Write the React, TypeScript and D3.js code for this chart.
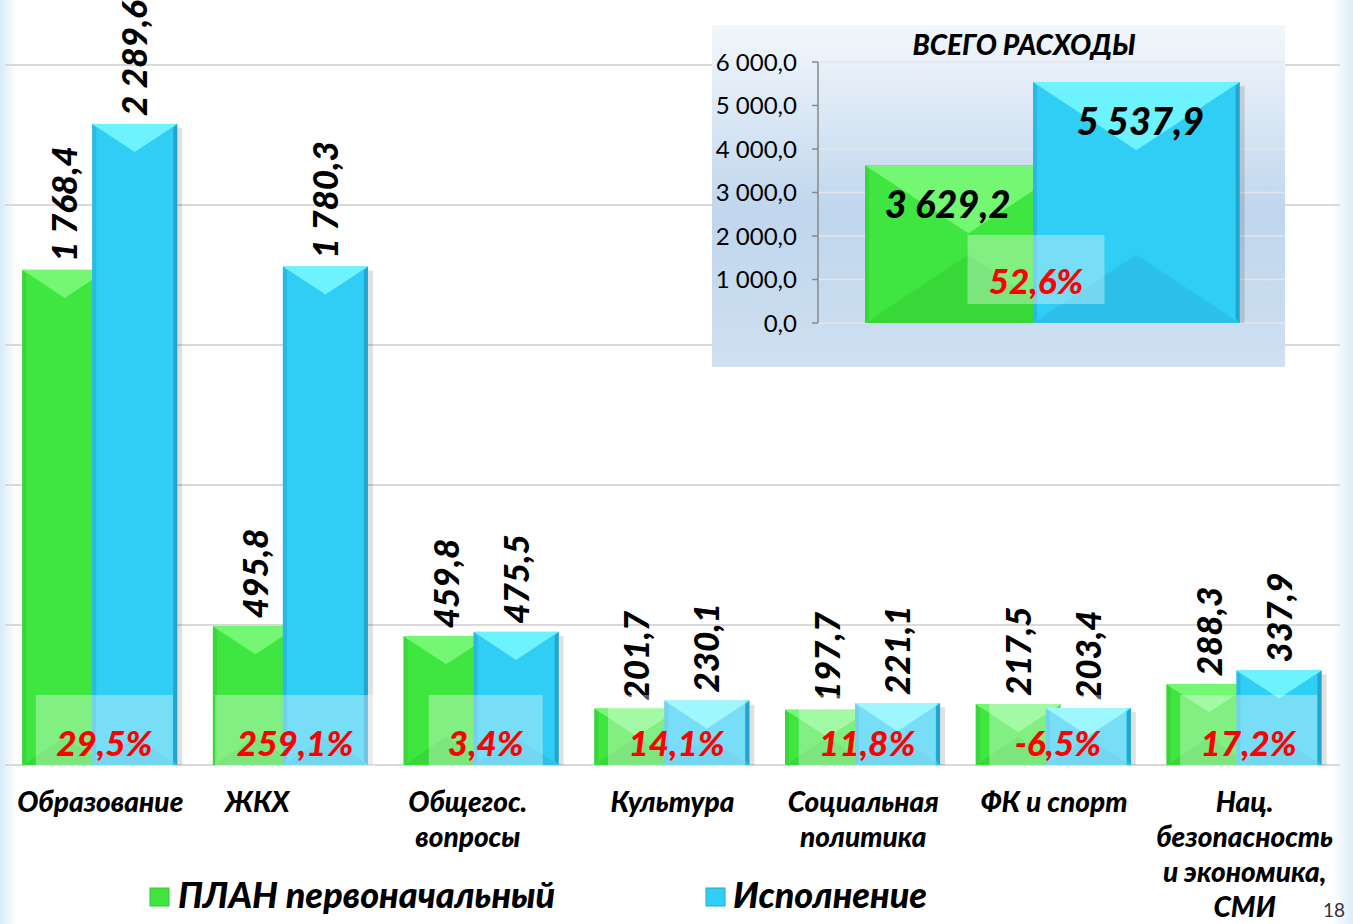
import React from "react";
import * as d3 from "d3";

// --- data ---
const categories = [
  "Образование",
  "ЖКХ",
  "Общегос.\nвопросы",
  "Культура",
  "Социальная\nполитика",
  "ФК и спорт",
  "Нац.\nбезопасность\nи экономика,\nСМИ",
];
const planValues = [1768.4, 495.8, 459.8, 201.7, 197.7, 217.5, 288.3];
const execValues = [2289.6, 1780.3, 475.5, 230.1, 221.1, 203.4, 337.9];
const growthLabels = ["29,5%", "259,1%", "3,4%", "14,1%", "11,8%", "-6,5%", "17,2%"];

const totalSeries = ["ПЛАН первоначальный", "Исполнение"];
const totalValues = [3629.2, 5537.9];
const totalGrowth = "52,6%";
const insetTicks = [0, 1000, 2000, 3000, 4000, 5000, 6000];

// layout nudges for a couple of category labels
const labelNudge: Record<string, number> = { "ЖКХ": -34, "Общегос.\nвопросы": -14 };

const W = 1353;
const H = 924;
const FONT = "Lato, 'Open Sans', sans-serif";

const ru = d3.formatLocale({ decimal: ",", thousands: " ", grouping: [3], currency: ["", ""] });
const fmt = ru.format(",.1f");

const GREEN = { base: "#40e640", top: "#74f874", side: "#30c530", bottom: "#38d838" };
const BLUE = { base: "#30cdf5", top: "#6cf3fd", side: "#22a6cf", bottom: "#2cc0e8" };

type Pal = typeof GREEN;

function BevelBar({ x, y, w, h, pal }: { x: number; y: number; w: number; h: number; pal: Pal }) {
  const d = Math.min(w * 0.33, h / 2);
  const cx = x + w / 2;
  const e = 4;
  return (
    <g>
      <rect x={x + 5} y={y + 4} width={w} height={h - 4} fill="#000" opacity={0.12} />
      <rect x={x} y={y} width={w} height={h} fill={pal.base} />
      <polygon points={`${x},${y} ${x + w},${y} ${cx},${y + d}`} fill={pal.top} />
      <polygon points={`${x},${y + h} ${x + w},${y + h} ${cx},${y + h - d}`} fill={pal.bottom} />
      <polygon points={`${x + w},${y} ${x + w},${y + h} ${x + w - e},${y + h - e} ${x + w - e},${y + e}`} fill={pal.side} />
      <polygon points={`${x},${y} ${x},${y + h} ${x + e},${y + h - e} ${x + e},${y + e}`} fill={pal.side} opacity={0.5} />
    </g>
  );
}

function PctBox({ cx, yTop, baseline, label, size }: { cx: number; yTop: number; baseline: number; label: string; size: number }) {
  const bw = label.length * 23 + 22;
  return (
    <g>
      <rect x={cx - bw / 2} y={yTop} width={bw} height={baseline - yTop + 10} fill="#fff" opacity={0.35} />
      <text x={cx} y={baseline} textAnchor="middle" fontFamily={FONT} fontWeight={900} fontStyle="italic" fontSize={size} fill="#ff0000">
        {label}
      </text>
    </g>
  );
}

export default function App() {
  // main chart scales
  const x = d3.scaleBand<string>().domain(categories).range([5, 1340]);
  const y = d3.scaleLinear().domain([0, 2500]).range([765, 65]);
  const bw = x.bandwidth();
  const barW = bw * 0.446;
  const shift = bw * 0.367;
  const lead = bw * 0.09;

  // inset scales
  const xi = d3.scaleBand<string>().domain(totalSeries).range([865, 1201]);
  const yi = d3.scaleLinear().domain([0, 6000]).range([323, 62]);
  const iw = xi.bandwidth() * 1.23;

  return (
    <svg width={W} height={H} style={{ position: "absolute", left: 0, top: 0 }} fontFamily={FONT}>
      <defs>
        <linearGradient id="pageBg" x1="0" x2="1" y1="0" y2="0">
          <stop offset="0" stopColor="#d6ebf9" />
          <stop offset="0.012" stopColor="#ffffff" />
          <stop offset="0.985" stopColor="#ffffff" />
          <stop offset="1" stopColor="#dcecf9" />
        </linearGradient>
        <linearGradient id="insetBg" x1="0" x2="0" y1="0" y2="1">
          <stop offset="0" stopColor="#f3f7fc" />
          <stop offset="0.55" stopColor="#bfd6ed" />
          <stop offset="1" stopColor="#cfe0f1" />
        </linearGradient>
      </defs>
      <rect width={W} height={H} fill="url(#pageBg)" />

      {/* grid */}
      {y.ticks(5).map((t) => (
        <line key={t} x1={5} x2={1340} y1={y(t)} y2={y(t)} stroke="#d9d9d9" strokeWidth={2} />
      ))}

      {/* bars */}
      {categories.map((c, i) => {
        const gx = (x(c) as number) + lead;
        const yp = y(planValues[i]);
        const ye = y(execValues[i]);
        return (
          <g key={c}>
            <BevelBar x={gx} y={yp} w={barW} h={y(0) - yp} pal={GREEN} />
            <BevelBar x={gx + shift} y={ye} w={barW} h={y(0) - ye} pal={BLUE} />
          </g>
        );
      })}

      {/* value labels */}
      {categories.map((c, i) => {
        const gx = (x(c) as number) + lead;
        const items = [
          { v: planValues[i], cx: gx + barW / 2 },
          { v: execValues[i], cx: gx + shift + barW / 2 },
        ];
        return items.map((it, k) => (
          <text
            key={c + k}
            transform={`translate(${it.cx},${y(it.v) - 8}) rotate(-90)`}
            dy="0.36em"
            fontWeight={900}
            fontStyle="italic"
            fontSize={35}
            fill="#000"
          >
            {fmt(it.v)}
          </text>
        ));
      })}

      {/* growth boxes */}
      {categories.map((c, i) => {
        const cx = (x(c) as number) + bw / 2 + 4;
        return <PctBox key={c} cx={cx} yTop={695} baseline={756} label={growthLabels[i]} size={35} />;
      })}

      {/* category labels */}
      {categories.map((c) => {
        const cx = (x(c) as number) + bw / 2 + (labelNudge[c] || 0);
        return (
          <text key={c} x={cx} y={812} textAnchor="middle" fontWeight={900} fontStyle="italic" fontSize={28} fill="#000">
            {c.split("\n").map((line, j) => (
              <tspan key={j} x={cx} dy={j === 0 ? 0 : 35}>
                {line}
              </tspan>
            ))}
          </text>
        );
      })}

      {/* inset: total expenses */}
      <g>
        <rect x={712} y={25} width={573} height={342} fill="url(#insetBg)" />
        {insetTicks.map((t) => (
          <g key={t}>
            <line x1={818} x2={1285} y1={yi(t)} y2={yi(t)} stroke="#e2e6ea" strokeWidth={1.5} />
            <line x1={812} x2={818} y1={yi(t)} y2={yi(t)} stroke="#888" strokeWidth={1.5} />
            <text x={797} y={yi(t)} dy="0.36em" textAnchor="end" fontSize={24} fill="#000">
              {fmt(t)}
            </text>
          </g>
        ))}
        <line x1={818} x2={818} y1={yi(6000)} y2={yi(0)} stroke="#888" strokeWidth={1.5} />
        {totalSeries.map((s, i) => (
          <BevelBar key={s} x={xi(s) as number} y={yi(totalValues[i])} w={iw} h={yi(0) - yi(totalValues[i])} pal={i === 0 ? GREEN : BLUE} />
        ))}
        {totalSeries.map((s, i) => (
          <text
            key={s}
            x={(xi(s) as number) + iw * (i === 0 ? 0.4 : 0.52)}
            y={yi(totalValues[i]) + 53}
            textAnchor="middle"
            fontWeight={900}
            fontStyle="italic"
            fontSize={38}
            fill="#000"
          >
            {fmt(totalValues[i])}
          </text>
        ))}
        <PctBox cx={1036} yTop={235} baseline={294} label={totalGrowth} size={35} />
        <text x={1024} y={55} textAnchor="middle" fontWeight={900} fontStyle="italic" fontSize={28} fill="#000">
          ВСЕГО РАСХОДЫ
        </text>
      </g>

      {/* legend */}
      <g>
        <rect x={150} y={888} width={19} height={18} fill={GREEN.base} stroke={GREEN.side} strokeWidth={1} />
        <text x={178} y={908} fontWeight={900} fontStyle="italic" fontSize={36} fill="#000">
          {totalSeries[0]}
        </text>
        <rect x={706} y={888} width={19} height={18} fill={BLUE.base} stroke={BLUE.side} strokeWidth={1} />
        <text x={733} y={908} fontWeight={900} fontStyle="italic" fontSize={36} fill="#000">
          {totalSeries[1]}
        </text>
      </g>

      <text x={1345} y={917} textAnchor="end" fontSize={19} fill="#333">
        18
      </text>
    </svg>
  );
}
